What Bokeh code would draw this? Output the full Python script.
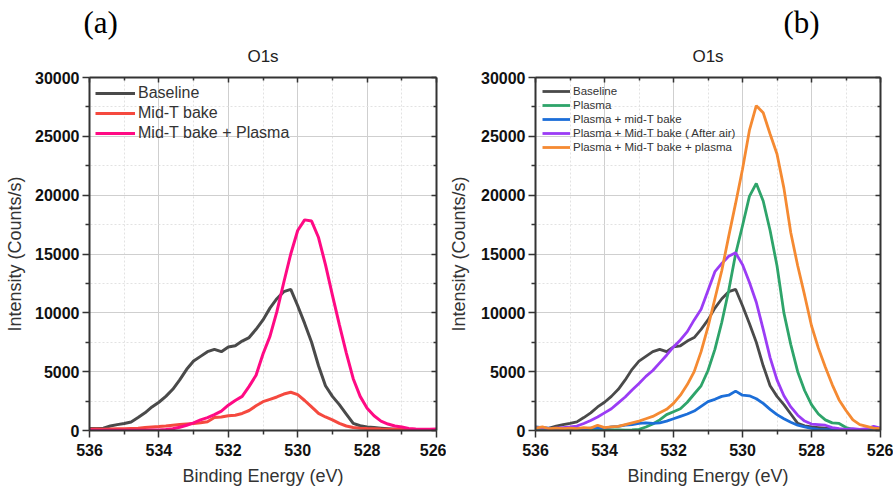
from bokeh.plotting import figure
from bokeh.layouts import row
from bokeh.models import (LinearAxis, Title, Legend, LegendItem, Range1d,
                          FixedTicker, ColumnDataSource, CustomLabelingPolicy)
from bokeh.embed import file_html
from bokeh.resources import INLINE

# ---------------- data (binding energy in eV, intensity in counts/s) ----------------
energy = [536.0, 535.8, 535.6, 535.4, 535.2, 535.0, 534.8, 534.6, 534.4, 534.2,
          534.0, 533.8, 533.6, 533.4, 533.2, 533.0, 532.8, 532.6, 532.4, 532.2,
          532.0, 531.8, 531.6, 531.4, 531.2, 531.0, 530.8, 530.6, 530.4, 530.2,
          530.0, 529.8, 529.6, 529.4, 529.2, 529.0, 528.8, 528.6, 528.4, 528.2,
          528.0, 527.8, 527.6, 527.4, 527.2, 527.0, 526.8, 526.6, 526.4, 526.2,
          526.0]

baseline = [170, 160, 200, 380, 500, 600, 730, 1100, 1500, 2000,
            2400, 2900, 3500, 4300, 5200, 5900, 6300, 6700, 6900, 6700,
            7100, 7200, 7600, 7900, 8600, 9400, 10400, 11200, 11800, 12000,
            10600, 9100, 7500, 5500, 3800, 2900, 2200, 1400, 600, 400,
            300, 250, 200, 150, 100, 100, 80, 80, 80, 80,
            80]

mid_t_bake = [100, 120, 100, 130, 150, 150, 180, 200, 250, 300,
              330, 380, 450, 500, 550, 600, 650, 750, 1100, 1150,
              1250, 1300, 1450, 1700, 2100, 2450, 2650, 2850, 3100, 3250,
              3050, 2550, 2000, 1450, 1150, 900, 600, 380, 250, 200,
              170, 150, 120, 100, 100, 80, 80, 70, 70, 60,
              60]

mid_t_bake_plasma = [50, 30, 30, 20, 20, 20, 20, 30, 30, 40,
                     50, 80, 150, 280, 450, 650, 900, 1100, 1350, 1650,
                     2150, 2550, 2900, 3750, 4700, 6500, 8000, 10100, 12600, 15000,
                     17000, 17900, 17800, 16400, 14100, 11500, 9000, 6600, 4400, 2900,
                     1900, 1250, 800, 550, 380, 300, 180, 120, 100, 100,
                     120]

plasma = [50, 60, 50, 40, 50, 40, 50, 60, 50, 40,
          50, 60, 50, 40, 50, 100, 300, 550, 900, 1350,
          1600, 1850, 2400, 3100, 3800, 5100, 6900, 9200, 11900, 15000,
          17400, 19900, 21000, 19500, 17000, 14000, 10000, 7300, 5000, 3400,
          2200, 1400, 900, 650, 600, 250, 100, 50, 50, 40,
          40]

plasma_mid_t = [300, 250, 200, 150, 100, 150, 200, 150, 200, 250,
                200, 300, 350, 450, 500, 600, 650, 600, 650, 800,
                1000, 1200, 1400, 1650, 2050, 2450, 2650, 2900, 3000, 3350,
                3000, 2950, 2700, 2300, 1800, 1350, 1000, 700, 450, 300,
                180, 100, 80, 60, 50, 50, 50, 50, 40, 40,
                40]

plasma_mid_t_air = [200, 250, 150, 200, 250, 300, 380, 600, 850, 1150,
                    1500, 1850, 2350, 2850, 3450, 4000, 4600, 5100, 5750, 6400,
                    7100, 7700, 8400, 9400, 10300, 11900, 13500, 14200, 14800, 15100,
                    14100, 12600, 10900, 8600, 6200, 4300, 2950, 2000, 1300, 800,
                    550, 500, 450, 250, 150, 100, 150, 100, 150, 350,
                    200]

plasma_mid_t_plasma = [200, 300, 150, 200, 150, 200, 150, 250, 200, 450,
                       250, 300, 350, 500, 650, 800, 1000, 1200, 1500, 1800,
                       2300, 3000, 3900, 5000, 6700, 8800, 11200, 13600, 16500, 19300,
                       22200, 25500, 27600, 27000, 25200, 23500, 20600, 16800, 14000, 11500,
                       8900, 7000, 5400, 3900, 2600, 1700, 900, 500, 350, 200,
                       150]

x_major = [536, 534, 532, 530, 528, 526]
x_minor = [535, 533, 531, 529, 527]
y_major = [0, 5000, 10000, 15000, 20000, 25000, 30000]
y_minor = [2500, 7500, 12500, 17500, 22500, 27500]

labels_a = ["Baseline", "Mid-T bake", "Mid-T bake + Plasma"]
series_a = [baseline, mid_t_bake, mid_t_bake_plasma]
colors_a = ["#4a4a4a", "#f5493f", "#ff0a84"]

labels_b = ["Baseline", "Plasma", "Plasma + mid-T bake",
            "Plasma + Mid-T bake ( After air)", "Plasma + Mid-T bake + plasma"]
series_b = [baseline, plasma, plasma_mid_t, plasma_mid_t_air, plasma_mid_t_plasma]
colors_b = ["#4a4a4a", "#2ea46a", "#1c6ed8", "#9b3cf5", "#f58a32"]

FONT = "Liberation Sans"
AXC = "#333333"
NO_LABELS = "for (const i of indices) { if (false) { yield i } }"


def mirror_axis(ticker):
    return LinearAxis(ticker=ticker, major_label_policy=CustomLabelingPolicy(code=NO_LABELS),
                      major_label_text_font_size="0px",
                      major_tick_in=5, major_tick_out=0, minor_tick_in=3, minor_tick_out=0,
                      axis_line_width=2, axis_line_color=AXC, major_label_standoff=0,
                      major_tick_line_color=AXC, minor_tick_line_color=AXC,
                      major_tick_line_width=1.5, minor_tick_line_width=1.5)


def make_panel(width, bl, br, bt, bb, letter, letter_offset, labels, series, colors,
               lw, leg_font, leg_h, leg_glyph_w, leg_pad, leg_margin, y_label_standoff):
    p = figure(width=width, height=493, x_range=Range1d(536, 526), y_range=Range1d(0, 30000),
               output_backend="svg", toolbar_location=None, title=None,
               min_border_left=bl, min_border_right=br, min_border_top=bt, min_border_bottom=bb)
    p.background_fill_color = "white"
    p.border_fill_color = "white"
    p.outline_line_color = None

    xt = FixedTicker(ticks=x_major, minor_ticks=x_minor)
    yt = FixedTicker(ticks=y_major, minor_ticks=y_minor)
    p.xaxis.ticker = xt
    p.yaxis.ticker = yt
    p.xaxis.axis_label = "Binding Energy (eV)"
    p.yaxis.axis_label = "Intensity (Counts/s)"
    for ax in (p.xaxis[0], p.yaxis[0]):
        ax.axis_line_width = 2
        ax.axis_line_color = AXC
        ax.major_tick_line_color = AXC
        ax.minor_tick_line_color = AXC
        ax.major_tick_line_width = 1.5
        ax.minor_tick_line_width = 1.5
        ax.major_tick_out = 7
        ax.major_tick_in = 0
        ax.minor_tick_out = 4
        ax.minor_tick_in = 0
        ax.major_label_text_font = FONT
        ax.major_label_text_font_size = "16px"
        ax.major_label_text_font_style = "bold"
        ax.major_label_text_color = "#111111"
        ax.axis_label_text_font = FONT
        ax.axis_label_text_font_size = "18px"
        ax.axis_label_text_font_style = "normal"
        ax.axis_label_text_color = "#333333"
    p.xaxis.major_label_standoff = 6
    p.xaxis.axis_label_standoff = 7
    p.yaxis.major_label_standoff = 3
    p.yaxis.axis_label_standoff = y_label_standoff

    p.xgrid.grid_line_color = "#cfcfcf"
    p.ygrid.grid_line_color = "#cfcfcf"
    p.xgrid.minor_grid_line_color = "#e2e2e2"
    p.ygrid.minor_grid_line_color = "#e2e2e2"
    p.xgrid.minor_grid_line_dash = "2 2"
    p.ygrid.minor_grid_line_dash = "2 2"

    # mirrored axes (top and right) with inward ticks, no labels
    p.add_layout(mirror_axis(xt), "above")
    p.add_layout(mirror_axis(yt), "right")

    p.add_layout(Title(text="O1s", align="center", text_font=FONT, text_font_size="17px",
                       text_font_style="normal", text_color="#222222", standoff=24,
                       text_line_height=1.0), "above")
    p.add_layout(Title(text=letter, align="left", offset=letter_offset,
                       text_font="Liberation Serif", text_font_size="31px",
                       text_font_style="normal", text_color="#000000", standoff=-15,
                       text_line_height=1.0), "above")

    items = []
    for lab, ys, col in zip(labels, series, colors):
        src = ColumnDataSource(data=dict(x=energy, y=ys))
        r = p.line("x", "y", source=src, line_color=col, line_width=lw)
        items.append(LegendItem(label=lab, renderers=[r]))
    leg = Legend(items=items, location="top_left", label_text_font=FONT,
                 label_text_font_size=leg_font, label_text_color="#333333",
                 label_height=leg_h, glyph_height=leg_h, glyph_width=leg_glyph_w,
                 label_standoff=3, spacing=0, padding=leg_pad, margin=leg_margin,
                 background_fill_alpha=0, border_line_color=None)
    p.add_layout(leg)
    return p


pa = make_panel(446, 89, 10, 75, 63, "(a)", -6, labels_a, series_a, colors_a,
                3, "16px", 20, 40, 7, 6, 7)
pb = make_panel(447, 87, 13, 77, 62, "(b)", 248, labels_b, series_b, colors_b,
                2.8, "11.5px", 14, 28, 5, 7, 9)

layout = row(pa, pb)
open("out.html", "w").write(file_html(layout, INLINE))
